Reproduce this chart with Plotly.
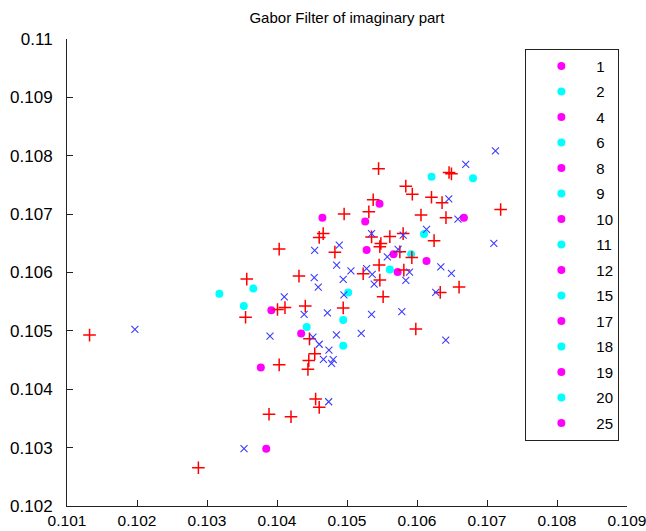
import plotly.graph_objects as go

# values in units of 1e-3 are converted once below (scale factor only)
red_x = [105.451, 106.458, 106.492, 105.840, 105.933, 105.374, 106.207, 106.358, 107.195, 104.959,
         105.312, 106.057, 106.414, 105.802, 105.612, 105.351, 105.484, 105.469, 106.244, 104.827,
         105.755, 105.926, 105.459, 105.231, 105.812, 105.469, 106.332, 106.601, 105.516, 104.946,
         105.983, 104.603, 104.660, 104.031, 104.314, 103.568, 104.007, 104.114, 104.404, 103.551,
         104.464, 104.539, 104.454, 104.442, 104.031, 104.552, 104.603, 103.886, 104.200, 102.877,
         101.322]
red_y = [107.779, 107.714, 107.690, 107.479, 107.342, 107.245, 107.288, 107.197, 107.080, 107.003,
         107.039, 106.986, 106.940, 106.666, 106.615, 106.610, 106.498, 106.443, 106.546, 106.349,
         106.354, 106.255, 106.127, 105.978, 106.041, 105.870, 105.659, 105.750, 105.584, 105.394,
         105.031, 106.601, 106.666, 106.401, 105.938, 105.887, 105.365, 105.399, 105.425, 105.233,
         104.863, 104.608, 104.491, 104.341, 104.418, 103.832, 103.690, 103.572, 103.529, 102.656,
         104.928]

blue_x = [107.121, 106.696, 106.454, 106.585, 106.136, 105.351, 105.802, 104.889, 105.730, 105.576,
          107.098, 104.852, 105.056, 105.280, 105.360, 105.893, 106.340, 106.492, 104.946, 105.388,
          105.840, 106.268, 104.956, 105.351, 105.783, 104.720, 104.849, 105.203, 106.411, 104.742,
          104.803, 104.663, 104.780, 104.603, 104.514, 103.900, 104.538, 104.532, 104.589, 104.104,
          104.388, 104.738, 103.529, 101.970]
blue_y = [108.084, 107.853, 107.262, 106.914, 106.738, 106.666, 106.640, 106.469, 106.396, 106.269,
          106.498, 106.127, 106.029, 106.067, 105.969, 106.007, 106.098, 105.985, 105.884, 105.801,
          105.865, 105.659, 105.618, 105.283, 105.331, 105.310, 104.933, 104.957, 104.842, 104.671,
          104.509, 104.512, 104.443, 104.771, 104.894, 104.911, 106.378, 105.913, 105.750, 105.584,
          105.284, 103.786, 102.981, 105.026]

magenta_x = [104.649, 105.465, 105.260, 106.670, 105.280, 105.665, 106.136, 105.723, 103.919, 104.345,
             103.769, 103.846]
magenta_y = [106.940, 107.176, 106.875, 106.937, 106.384, 106.312, 106.195, 106.007, 105.353, 104.957,
             104.372, 102.981]
magenta_cls = ["1", "4", "8", "10", "12", "17", "19", "25", "1", "4", "8", "10"]

cyan_x = [106.208, 106.800, 106.100, 105.916, 105.612, 105.017, 104.946, 104.946, 103.177, 103.662,
          103.526, 104.424]
cyan_y = [107.639, 107.613, 106.658, 106.312, 106.053, 105.656, 105.185, 104.745, 105.635, 105.724,
          105.425, 105.065]
cyan_cls = ["2", "6", "9", "11", "15", "18", "20", "2", "6", "9", "11", "15"]

legend_labels = ["1", "2", "4", "6", "8", "9", "10", "11", "12", "15", "17", "18", "19", "20", "25"]
x_ticks = [0.101, 0.102, 0.103, 0.104, 0.105, 0.106, 0.107, 0.108, 0.109]
x_tick_text = ["0.101", "0.102", "0.103", "0.104", "0.105", "0.106", "0.107", "0.108", "0.109"]
y_ticks = [0.102, 0.103, 0.104, 0.105, 0.106, 0.107, 0.108, 0.109, 0.11]
y_tick_text = ["0.102", "0.103", "0.104", "0.105", "0.106", "0.107", "0.108", "0.109", "0.11"]

S = 1e-3
FONT = "Liberation Sans, Arial, sans-serif"

fig = go.Figure()

for lab in legend_labels:
    if lab in magenta_cls:
        xs = [x * S for x, c in zip(magenta_x, magenta_cls) if c == lab]
        ys = [y * S for y, c in zip(magenta_y, magenta_cls) if c == lab]
        col = "#ff00ff"
    else:
        xs = [x * S for x, c in zip(cyan_x, cyan_cls) if c == lab]
        ys = [y * S for y, c in zip(cyan_y, cyan_cls) if c == lab]
        col = "#00ffff"
    fig.add_trace(go.Scatter(x=xs, y=ys, mode="markers", name=lab, legendgroup=lab,
                             marker=dict(symbol="circle", size=8, color=col, line=dict(width=0))))

fig.add_trace(go.Scatter(x=[v * S for v in red_x], y=[v * S for v in red_y], mode="markers",
                         showlegend=False,
                         marker=dict(symbol="cross-thin-open", size=9, color="#ff0000",
                                     line=dict(color="#ff0000", width=1.5))))
fig.add_trace(go.Scatter(x=[v * S for v in blue_x], y=[v * S for v in blue_y], mode="markers",
                         showlegend=False,
                         marker=dict(symbol="x-thin-open", size=7, color="#3c3cff",
                                     line=dict(color="#3c3cff", width=1.1))))

axis_common = dict(showgrid=False, zeroline=False, showline=True, linecolor="#222222", linewidth=1,
                   ticks="inside", ticklen=6, tickcolor="#222222", tickwidth=1, mirror=False,
                   automargin=False, ticklabeloverflow="allow")

fig.update_layout(
    width=646, height=531,
    margin=dict(l=67, r=19, t=39, b=25, pad=0),
    paper_bgcolor="white", plot_bgcolor="white",
    title=dict(text="Gabor Filter of imaginary part", x=0.5, xref="paper", xanchor="center",
               y=0.966, yref="container", yanchor="middle", automargin=False,
               font=dict(family=FONT, size=15, color="black")),
    xaxis=dict(range=[0.101, 0.109], tickvals=x_ticks, ticktext=x_tick_text,
               tickfont=dict(family=FONT, size=15.5, color="black"), **axis_common),
    yaxis=dict(range=[0.102, 0.11], tickvals=y_ticks, ticktext=y_tick_text,
               ticklabelstandoff=10, tickfont=dict(family=FONT, size=17, color="black"),
               **axis_common),
    legend=dict(x=0.8185, y=0.979, xanchor="left", yanchor="top", bgcolor="white",
                bordercolor="#222222", borderwidth=1, tracegroupgap=3, itemwidth=60,
                font=dict(family=FONT, size=15, color="black"), itemsizing="trace"),
    showlegend=True,
)

fig.write_html("out.html", post_script="document.body.style.margin='0';",
               config={"displayModeBar": False})
